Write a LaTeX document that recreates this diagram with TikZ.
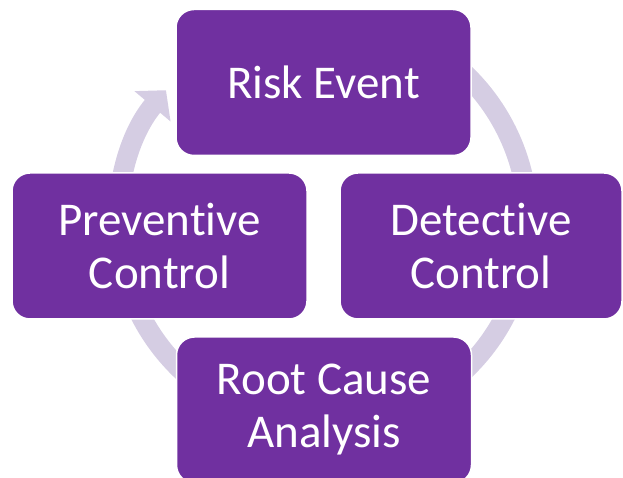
\documentclass[tikz,border=0pt]{standalone}
\usepackage{fontspec}
\setmainfont{Carlito}[Ligatures=NoCommon]
\usetikzlibrary{positioning,arrows.meta}
\definecolor{plum}{HTML}{7030A0}
\definecolor{lilac}{HTML}{D5CDE3}
\tikzset{
  stage/.style ={draw=white, line width=1.5pt, rounded corners=18pt,
                 fill=plum, text=white, align=center,
                 minimum width=295pt, minimum height=146pt,
                 font=\fontsize{47}{53}\selectfont},
  % the cycle arrow behind the boxes
  ring/.style  ={draw=lilac, line width=20pt,
                 -{Triangle[length=21pt, width=46pt]}},
}

\begin{document}
\begin{tikzpicture}[x=1pt, y=1pt]
    \useasboundingbox (0,0) rectangle (623,478);
    \coordinate (O) at (323,256);
    \draw[ring] ([shift={(70:205)}]O) arc[start angle=70, end angle=-220, radius=205];
    \node[stage] (risk)    at (323.5,395.5) {Risk Event};
    \node[stage] (prevent) at (159.5,232)   {Preventive\\Control};
    \node[stage, minimum width=282pt] (detect) at (481,232) {Detective\\Control};
    \node[stage] (root)    at (324,68)      {Root Cause\\Analysis};
  \end{tikzpicture}
\end{document}
